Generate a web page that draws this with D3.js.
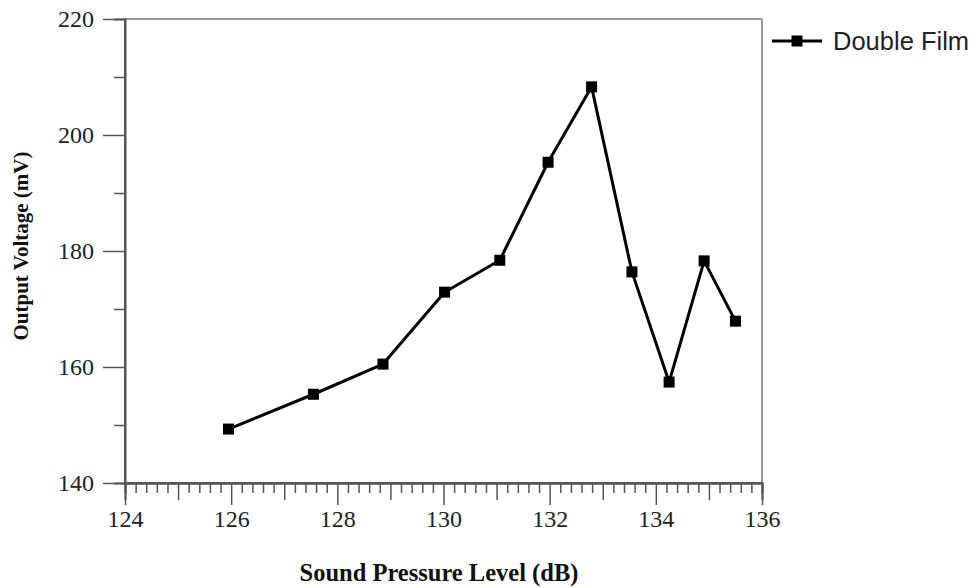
<!DOCTYPE html>
<html>
<head>
<meta charset="utf-8">
<script src="https://cdn.jsdelivr.net/npm/d3@7"></script>
<style>
  body { margin: 0; background: #fff; }
  svg { display: block; }
</style>
</head>
<body>
<div class="chart"></div>
<script>
// Double Film: output voltage vs sound pressure level
const spl = [125.95, 127.55, 128.86, 130.02, 131.06, 131.97, 132.79, 133.55, 134.25, 134.91, 135.5];
const voltage = [149.3, 155.3, 160.5, 172.9, 178.4, 195.3, 208.3, 176.4, 157.4, 178.3, 167.9];
const seriesName = "Double Film";

const xMajor = [124, 126, 128, 130, 132, 134, 136];
const yMajor = [140, 160, 180, 200, 220];

let svg = d3.select(".chart").append("svg").attr("width", 975).attr("height", 588),
    margin = {top: 19, right: 213, bottom: 105, left: 125},
    width = svg.attr("width") - margin.left - margin.right,
    height = svg.attr("height") - margin.top - margin.bottom;

let g = svg.append("g").attr("transform", `translate(${margin.left},${margin.top})`);

let x = d3.scaleLinear().domain([124, 136]).range([0, width]);
let y = d3.scaleLinear().domain([140, 220]).range([height, 0]);

let data = spl.map((d, i) => ({x: d, y: voltage[i]}));

// frame: top and right in lighter grey
g.append("line").attr("x1", 0).attr("x2", width).attr("y1", 0).attr("y2", 0)
  .attr("stroke", "#999").attr("stroke-width", 2);
g.append("line").attr("x1", width).attr("x2", width).attr("y1", 0).attr("y2", height)
  .attr("stroke", "#999").attr("stroke-width", 2);

function styleAxis(sel) {
  sel.select(".domain").attr("stroke", "#555").attr("stroke-width", 2);
  sel.selectAll(".tick line").attr("stroke", "#555").attr("stroke-width", 1.5);
  sel.selectAll(".tick text")
    .attr("font-family", "'Liberation Serif', 'Times New Roman', serif")
    .attr("font-size", 24).attr("fill", "#222");
}

// x minor / medium ticks
let xMinor = d3.range(0, 61).map(i => 124 + i * 0.2).filter(v => Math.abs(v - Math.round(v)) > 0.01);
let xMid = [125, 127, 129, 131, 133, 135];

g.append("g").attr("transform", `translate(0,${height})`)
  .call(d3.axisBottom(x).tickValues(xMinor).tickSize(10).tickFormat(""))
  .call(styleAxis);
g.append("g").attr("transform", `translate(0,${height})`)
  .call(d3.axisBottom(x).tickValues(xMid).tickSize(17).tickFormat(""))
  .call(styleAxis);
let xAxis = g.append("g").attr("transform", `translate(0,${height})`)
  .call(d3.axisBottom(x).tickValues(xMajor).tickSize(22).tickPadding(5).tickFormat(d3.format("d")))
  .call(styleAxis);
xAxis.select(".domain").attr("d", `M0,0H${width}`);

// y ticks
g.append("g")
  .call(d3.axisLeft(y).tickValues([150, 170, 190, 210]).tickSize(11).tickFormat(""))
  .call(styleAxis);
let yAxis = g.append("g")
  .call(d3.axisLeft(y).tickValues(yMajor).tickSize(22).tickPadding(9).tickFormat(d3.format("d")))
  .call(styleAxis);
yAxis.select(".domain").attr("d", `M0,${height}V0`);

// series line
let line = d3.line().x(d => x(d.x)).y(d => y(d.y));
g.append("path").datum(data)
  .attr("d", line)
  .attr("fill", "none")
  .attr("stroke", "#000")
  .attr("stroke-width", 3)
  .attr("stroke-linejoin", "round");

let ms = 11;
g.selectAll("rect.pt").data(data).enter().append("rect")
  .attr("class", "pt")
  .attr("x", d => x(d.x) - ms / 2)
  .attr("y", d => y(d.y) - ms / 2)
  .attr("width", ms).attr("height", ms)
  .attr("fill", "#000");

// axis titles
svg.append("text")
  .attr("x", 439).attr("y", 581)
  .attr("text-anchor", "middle")
  .attr("font-family", "'Liberation Serif', 'Times New Roman', serif")
  .attr("font-weight", "bold").attr("font-size", 24.5).attr("fill", "#111")
  .text("Sound Pressure Level (dB)");

svg.append("text")
  .attr("transform", "translate(28,246) rotate(-90)")
  .attr("text-anchor", "middle")
  .attr("font-family", "'Liberation Serif', 'Times New Roman', serif")
  .attr("font-weight", "bold").attr("font-size", 21).attr("fill", "#111")
  .text("Output Voltage (mV)");

// legend
let lg = svg.append("g").attr("transform", "translate(772,41)");
lg.append("line").attr("x1", 0).attr("x2", 50).attr("y1", 0).attr("y2", 0)
  .attr("stroke", "#000").attr("stroke-width", 3);
lg.append("rect").attr("x", 25 - ms / 2).attr("y", -ms / 2).attr("width", ms).attr("height", ms).attr("fill", "#000");
lg.append("text").attr("x", 61).attr("y", 9)
  .attr("font-family", "'Liberation Sans', Arial, sans-serif")
  .attr("font-size", 25.5).attr("fill", "#222")
  .text(seriesName);
</script>
</body>
</html>
